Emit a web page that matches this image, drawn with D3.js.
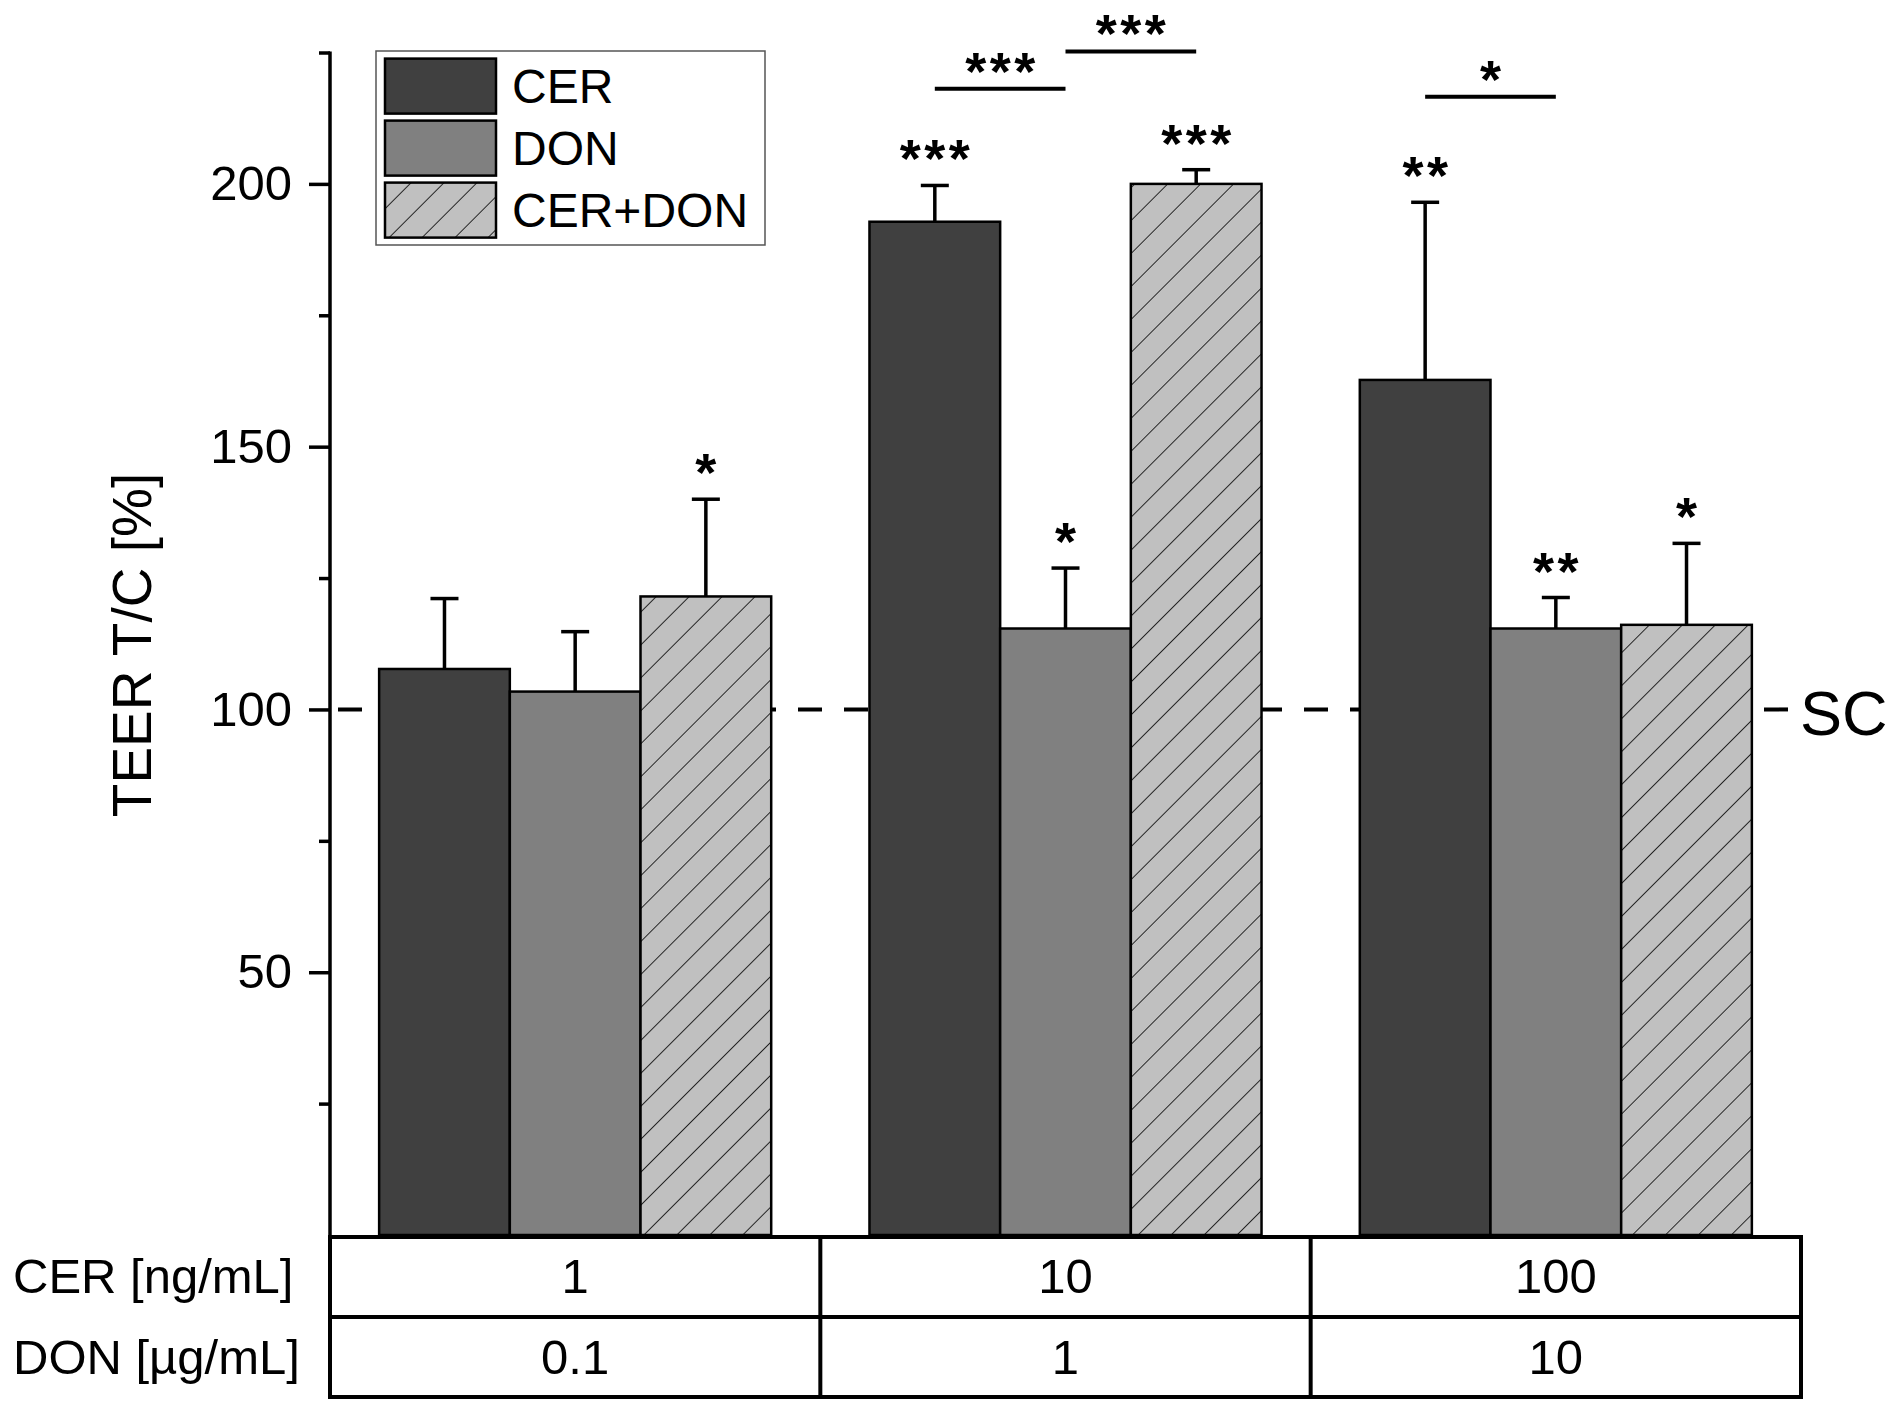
<!DOCTYPE html>
<html>
<head>
<meta charset="utf-8">
<script src="https://cdn.jsdelivr.net/npm/d3@7"></script>
<style>
  html, body { margin: 0; padding: 0; background: #fff; }
  svg text { font-family: "Liberation Sans", Arial, sans-serif; fill: #000; }
</style>
</head>
<body>
<svg id="chart" width="1896" height="1414"></svg>
<script>
// ---- data ----
const groups = ["g1", "g2", "g3"];
const series = ["CER", "DON", "CER+DON"];
const cerConc = ["1", "10", "100"];
const donConc = ["0.1", "1", "10"];
const meanCER = [107.7, 192.8, 162.7];
const meanDON = [103.4, 115.4, 115.4];
const meanMix = [121.5, 200.0, 116.1];
const errCER = [13.4, 6.9, 33.8];
const errDON = [11.4, 11.5, 5.9];
const errMix = [18.5, 2.7, 15.5];
const sigCER = ["", "***", "**"];
const sigDON = ["", "*", "**"];
const sigMix = ["*", "***", "*"];
const bracketGroup = [1, 1, 2];
const bracketFrom = [0, 1, 0];
const bracketTo = [1, 2, 1];
const bracketLevel = [218.1, 225.2, 216.6];
const bracketLabel = ["***", "***", "*"];
const majorTicks = [50, 100, 150, 200];
const minorTicks = [25, 75, 125, 175, 225];
const refValue = 100;
const refLabel = "SC";
const yLabel = "TEER T/C [%]";
const rowLabels = ["CER [ng/mL]", "DON [µg/mL]"];
const colors = ["#404040", "#808080", "#c0c0c0"];

const means = [meanCER, meanDON, meanMix];
const errs = [errCER, errDON, errMix];
const sigs = [sigCER, sigDON, sigMix];

const bars = [];
groups.forEach((g, gi) => series.forEach((s, si) => {
  bars.push({g, s, si, gi, v: means[si][gi], e: errs[si][gi], sig: sigs[si][gi]});
}));

// ---- layout ----
const svg = d3.select("#chart");
const y = d3.scaleLinear().domain([0, 225]).range([1235, 52.5]);
const x0 = d3.scaleBand().domain(groups).range([330, 1801]).paddingInner(0).paddingOuter(0);
const x1 = d3.scaleBand().domain(series).range([0, x0.bandwidth()]).paddingInner(0).paddingOuter(0.376);
const bx = d => x0(d.g) + x1(d.s);
const cx = d => bx(d) + x1.bandwidth() / 2;
const LS = 3.5; // star letter spacing

// hatch pattern
const defs = svg.append("defs");
const pat = defs.append("pattern")
  .attr("id", "hatch").attr("patternUnits", "userSpaceOnUse")
  .attr("width", 23.3).attr("height", 23.3)
  .attr("patternTransform", "rotate(45)");
pat.append("rect").attr("width", 23.3).attr("height", 23.3).attr("fill", colors[2]);
pat.append("line").attr("x1", 0).attr("y1", 0).attr("x2", 0).attr("y2", 23.3)
  .attr("stroke", "#000").attr("stroke-width", 1.6);
const fillFor = si => si === 2 ? "url(#hatch)" : colors[si];

// reference dashed line
svg.append("line")
  .attr("x1", 330).attr("x2", 1800)
  .attr("y1", y(refValue)).attr("y2", y(refValue))
  .attr("stroke", "#000").attr("stroke-width", 4)
  .attr("stroke-dasharray", "24,22").attr("stroke-dashoffset", -8);
svg.append("text")
  .attr("x", 1800).attr("y", 735)
  .attr("font-size", 63).text(refLabel);

// error bars
const eb = svg.append("g").attr("stroke", "#000").attr("stroke-width", 3.5);
eb.selectAll("line.v").data(bars).join("line")
  .attr("x1", cx).attr("x2", cx)
  .attr("y1", d => y(d.v)).attr("y2", d => y(d.v + d.e));
eb.selectAll("line.c").data(bars).join("line")
  .attr("x1", d => cx(d) - 14).attr("x2", d => cx(d) + 14)
  .attr("y1", d => y(d.v + d.e)).attr("y2", d => y(d.v + d.e));

// bars
svg.append("g").selectAll("rect").data(bars).join("rect")
  .attr("x", bx).attr("width", x1.bandwidth())
  .attr("y", d => y(d.v)).attr("height", d => y(0) - y(d.v))
  .attr("fill", d => fillFor(d.si))
  .attr("stroke", "#000").attr("stroke-width", 2.5);

// significance stars above bars
svg.append("g").selectAll("text").data(bars.filter(d => d.sig)).join("text")
  .attr("x", d => cx(d) + LS / 2).attr("y", d => y(d.v + d.e) - 8)
  .attr("text-anchor", "middle").attr("font-size", 54).attr("font-weight", "bold")
  .attr("letter-spacing", LS)
  .text(d => d.sig);

// brackets
const br = bracketGroup.map((gi, i) => ({
  g: groups[gi], a: series[bracketFrom[i]], b: series[bracketTo[i]],
  lv: bracketLevel[i], lab: bracketLabel[i]
}));
const bcx = (g, s) => x0(g) + x1(s) + x1.bandwidth() / 2;
svg.append("g").selectAll("line").data(br).join("line")
  .attr("x1", d => bcx(d.g, d.a)).attr("x2", d => bcx(d.g, d.b))
  .attr("y1", d => y(d.lv)).attr("y2", d => y(d.lv))
  .attr("stroke", "#000").attr("stroke-width", 4);
svg.append("g").selectAll("text").data(br).join("text")
  .attr("x", d => (bcx(d.g, d.a) + bcx(d.g, d.b)) / 2 + LS / 2)
  .attr("y", d => y(d.lv) + 1)
  .attr("text-anchor", "middle").attr("font-size", 54).attr("font-weight", "bold")
  .attr("letter-spacing", LS)
  .text(d => d.lab);

// y axis
const axMajor = svg.append("g").attr("transform", "translate(330,0)")
  .call(d3.axisLeft(y).tickValues(majorTicks).tickSize(21).tickSizeOuter(0).tickPadding(17));
axMajor.select(".domain").remove();
axMajor.selectAll(".tick line").attr("stroke", "#000").attr("stroke-width", 3.5);
axMajor.selectAll(".tick text").attr("font-size", 49)
  .attr("font-family", "'Liberation Sans', Arial, sans-serif");
const axMinor = svg.append("g").attr("transform", "translate(330,0)")
  .call(d3.axisLeft(y).tickValues(minorTicks).tickSize(11).tickSizeOuter(0).tickFormat(""));
axMinor.select(".domain").remove();
axMinor.selectAll(".tick line").attr("stroke", "#000").attr("stroke-width", 3.5);
svg.append("line").attr("x1", 330).attr("x2", 330)
  .attr("y1", y(225) - 1).attr("y2", 1397)
  .attr("stroke", "#000").attr("stroke-width", 3.5);

// y label
svg.append("text")
  .attr("transform", "translate(151,645) rotate(-90)")
  .attr("text-anchor", "middle").attr("font-size", 55).text(yLabel);

// legend
const lg = svg.append("g");
lg.append("rect").attr("x", 376).attr("y", 51).attr("width", 389).attr("height", 194)
  .attr("fill", "#fff").attr("stroke", "#555").attr("stroke-width", 1.5);
series.forEach((s, si) => {
  lg.append("rect").attr("x", 385).attr("y", 58.6 + si * 62).attr("width", 111).attr("height", 55)
    .attr("fill", fillFor(si)).attr("stroke", "#000").attr("stroke-width", 2.5);
  lg.append("text").attr("x", 512).attr("y", 102.5 + si * 62).attr("font-size", 48).text(s);
});

// table below axis
const tTop = 1237, tMid = 1317, tBot = 1397;
const tb = svg.append("g").attr("stroke", "#000").attr("stroke-width", 4);
[tTop, tMid, tBot].forEach(yy => tb.append("line").attr("x1", 328).attr("x2", 1803).attr("y1", yy).attr("y2", yy));
groups.concat(["end"]).forEach((g, i) => {
  const xx = i < groups.length ? x0(g) : x0.range()[1];
  tb.append("line").attr("x1", xx).attr("x2", xx).attr("y1", tTop).attr("y2", tBot);
});
const rows = [cerConc, donConc];
rows.forEach((r, ri) => {
  svg.append("text").attr("x", 13).attr("y", 1293 + ri * 81).attr("font-size", 49).text(rowLabels[ri]);
  svg.append("g").selectAll("text").data(r).join("text")
    .attr("x", (d, i) => x0(groups[i]) + x0.bandwidth() / 2)
    .attr("y", 1293 + ri * 81)
    .attr("text-anchor", "middle").attr("font-size", 49).text(d => d);
});
</script>
</body>
</html>
